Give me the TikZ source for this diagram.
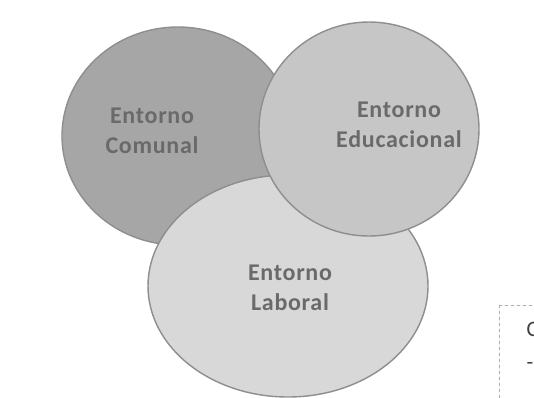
\documentclass[tikz,border=0pt]{standalone}
\usepackage{fontspec}
\setmainfont{Carlito}
\usetikzlibrary{shapes.geometric}
\definecolor{grisA}{HTML}{A6A6A6}
\definecolor{grisB}{HTML}{C6C6C6}
\definecolor{grisC}{HTML}{D8D8D8}
\definecolor{borde}{HTML}{8E8E8E}
\definecolor{letra}{HTML}{6A6A6A}
\newfontfamily\rotfont[LetterSpace=3]{Carlito}
\tikzset{
  entorno/.style={ellipse, draw=borde, line width=1.4pt, inner sep=0pt},
  rotulo/.style={text=letra, align=center, font=\rotfont\bfseries\fontsize{24}{30}\selectfont},
}
\begin{document}
\begin{tikzpicture}[x=1pt, y=-1pt, line join=round, line cap=round]
	% Marco
	\useasboundingbox (0,0) rectangle (534,397);
	\clip (0,0) rectangle (534,397);
	
	% Elipses
	\node[entorno, fill=grisA, minimum width=232pt, minimum height=218pt] (comunal) at (178,136) {};
	\node[entorno, fill=grisC, minimum width=280pt, minimum height=222pt] (laboral) at (288,286) {};
	\node[entorno, fill=grisB, minimum width=220pt, minimum height=214pt] (educacional) at (369,129) {};
	
	% Rotulos
	\node[rotulo] (tcomunal) at (152,131) {Entorno\\Comunal};
	\node[rotulo] (teducacional) at (399,125) {Entorno\\Educacional};
	\node[rotulo] (tlaboral) at (290,288) {Entorno\\Laboral};
	
	% Recuadro de la esquina
	\coordinate (esq) at (499,305);
	\draw[borde!70, line width=0.6pt, dash pattern=on 3pt off 3pt] (esq) -- ++(0,100);
	\draw[borde!70, line width=0.6pt, dash pattern=on 3pt off 3pt] (esq) -- ++(40,0);
	\node[rotulo, anchor=west, text=black!75, font=\fontsize{22}{26}\selectfont] (trecuadro) at (523,329) {C};
	\node[rotulo, anchor=west, text=black!75, font=\fontsize{22}{26}\selectfont] (trecuadro2) at (523,366) {-};
\end{tikzpicture}
\end{document}
